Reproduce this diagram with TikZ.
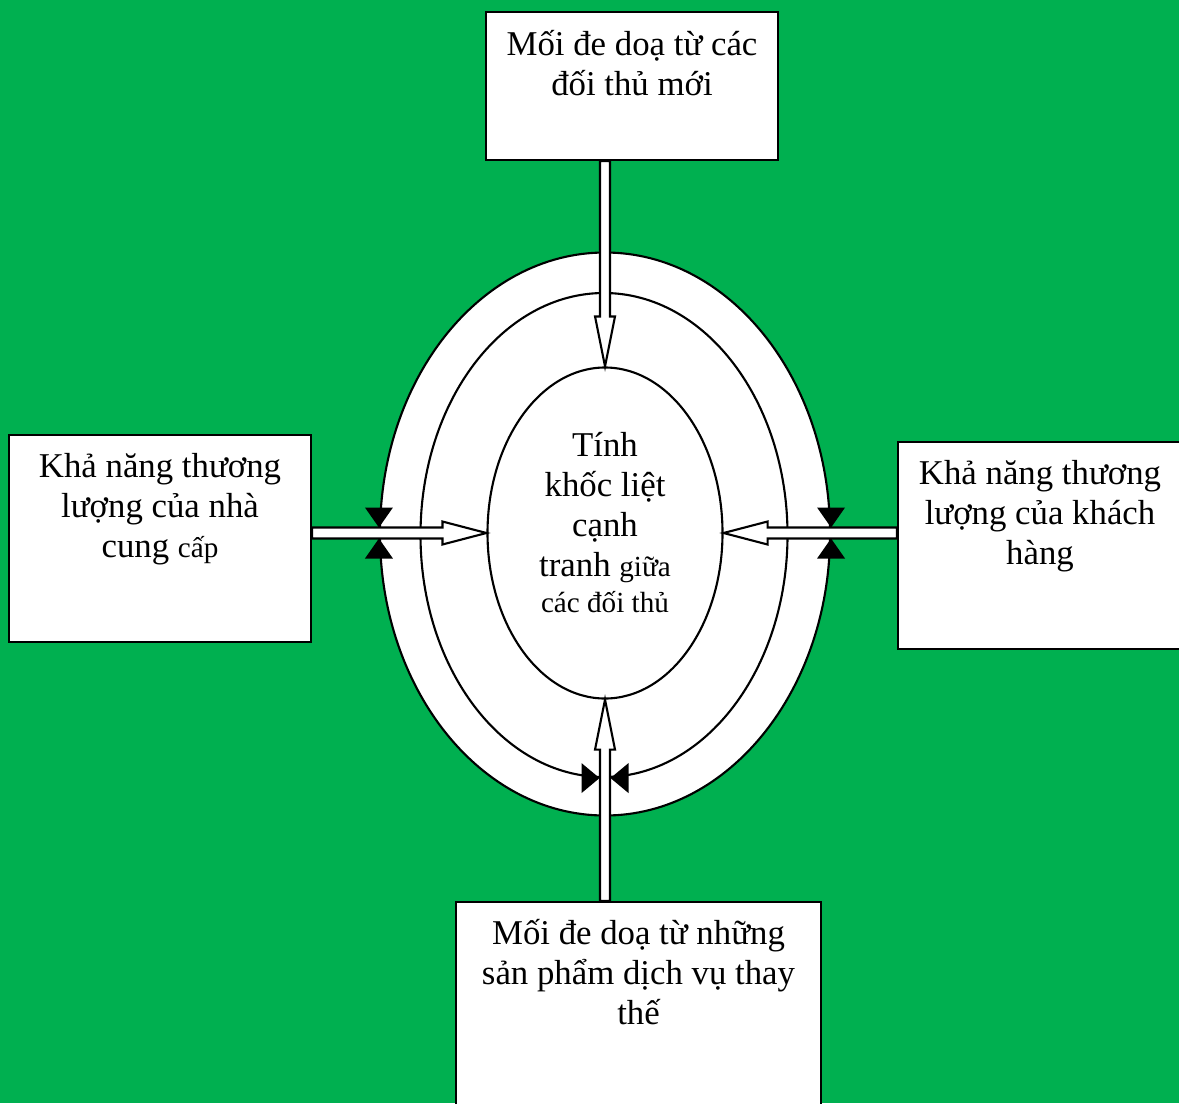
\documentclass[tikz,border=0pt]{standalone}
\usepackage{fontspec}
\setmainfont{Liberation Serif}
\usetikzlibrary{shapes.geometric, calc, positioning}
\definecolor{bggreen}{HTML}{00B050}

\tikzset{
  box/.style={draw=black, fill=white, line width=0.6pt, inner sep=0pt},
  oval/.style={ellipse, draw=black, fill=white, line width=0.6pt, inner sep=0pt},
  txt/.style={align=center, inner sep=0pt, font=\fontsize{9.9}{11.4}\selectfont},
  hollow/.style={draw=black, fill=white, line width=0.6pt, line join=miter},
  wedge/.style={fill=black},
}
\newcommand{\smalltxt}{\fontsize{8.3}{9.5}\selectfont}

\begin{document}
\begin{tikzpicture}
  \clip (0,0) rectangle (11.79,-11.03);
  \fill[bggreen] (0,0) rectangle (11.79,-11.03);

  % the three rings round the rivalry
  \node[oval, minimum width=4.5cm, minimum height=5.63cm] (outer) at (6.05,-5.34) {};
  \node[oval, minimum width=3.67cm, minimum height=4.84cm] (middle) at (6.04,-5.35) {};
  \node[oval, minimum width=2.35cm, minimum height=3.31cm] (inner) at (6.05,-5.33) {};
  \node[txt] (rivalry) at (6.05,-5.225) {Tính\\khốc liệt\\cạnh\\tranh {\smalltxt giữa}\\[-1.2pt]{\smalltxt các đối thủ}};

  % the four forces
  \node[box, minimum width=2.92cm, minimum height=1.48cm] (entrants) at (6.32,-0.86) {};
  \node[txt, below=0.19cm of entrants.north] {Mối đe doạ từ các\\đối thủ mới};

  \node[box, minimum width=3.02cm, minimum height=2.07cm] (suppliers) at (1.60,-5.385) {};
  \node[txt, below=0.19cm of suppliers.north] {Khả năng thương\\lượng của nhà\\cung {\smalltxt cấp}};

  \node[box, minimum width=2.84cm, minimum height=2.07cm] (customers) at (10.40,-5.455) {};
  \node[txt, below=0.19cm of customers.north] {Khả năng thương\\lượng của khách\\hàng};

  \node[box, minimum width=3.65cm, minimum height=2.20cm] (substitutes) at (6.385,-10.12) {};
  \node[txt, below=0.18cm of substitutes.north] {Mối đe doạ từ những\\sản phẩm dịch vụ thay\\thế};

  % hollow arrows
  \coordinate (tn) at (inner.north |- entrants.south);
  \draw[hollow] ($(tn)+(-0.05,0)$) -- ($(inner.north)+(-0.05,0.5)$) -- ++(-0.05,0) -- (inner.north)
    -- ($(inner.north)+(0.1,0.5)$) -- ++(-0.05,0) -- ($(tn)+(0.05,0)$) -- cycle;

  \coordinate (ls) at (suppliers.east |- inner.west);
  \draw[hollow] ($(ls)+(0,0.055)$) -- ($(inner.west)+(-0.44,0.055)$) -- ++(0,0.06) -- (inner.west)
    -- ($(inner.west)+(-0.44,-0.115)$) -- ++(0,0.06) -- ($(ls)+(0,-0.055)$) -- cycle;

  \coordinate (rc) at (customers.west |- inner.east);
  \draw[hollow] ($(rc)+(0,0.055)$) -- ($(inner.east)+(0.44,0.055)$) -- ++(0,0.06) -- (inner.east)
    -- ($(inner.east)+(0.44,-0.115)$) -- ++(0,0.06) -- ($(rc)+(0,-0.055)$) -- cycle;

  \coordinate (bs) at (inner.south |- substitutes.north);
  \draw[hollow] ($(bs)+(-0.05,0)$) -- ($(inner.south)+(-0.05,-0.5)$) -- ++(-0.05,0) -- (inner.south)
    -- ($(inner.south)+(0.1,-0.5)$) -- ++(-0.05,0) -- ($(bs)+(0.05,0)$) -- cycle;

  % black wedges on the rings
  \coordinate (lw) at (outer.west |- inner.west);
  \fill[wedge] ($(lw)+(0,0.055)$) -- ++(-0.14,0.2) -- ++(0.28,0) -- cycle;
  \fill[wedge] ($(lw)+(0,-0.055)$) -- ++(-0.14,-0.2) -- ++(0.28,0) -- cycle;

  \coordinate (rw) at (outer.east |- inner.east);
  \fill[wedge] ($(rw)+(0,0.055)$) -- ++(-0.14,0.2) -- ++(0.28,0) -- cycle;
  \fill[wedge] ($(rw)+(0,-0.055)$) -- ++(-0.14,-0.2) -- ++(0.28,0) -- cycle;

  \coordinate (bw) at (middle.south);
  \fill[wedge] ($(bw)+(-0.045,0)$) -- ++(-0.18,0.15) -- ++(0,-0.3) -- cycle;
  \fill[wedge] ($(bw)+(0.065,0)$) -- ++(0.18,0.15) -- ++(0,-0.3) -- cycle;
\end{tikzpicture}
\end{document}
